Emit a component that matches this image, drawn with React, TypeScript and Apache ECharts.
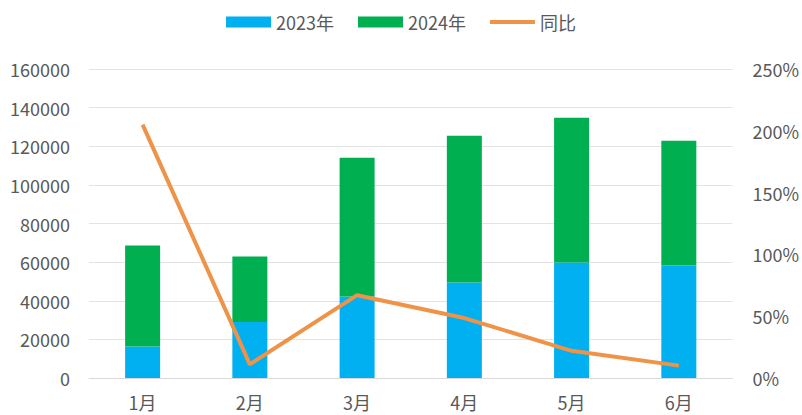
import React, { useEffect, useRef } from "react";
import * as echarts from "echarts";

const categories = ["1月", "2月", "3月", "4月", "5月", "6月"];
const values2023 = [16300, 29000, 42200, 49500, 59800, 58300];
const values2024 = [52300, 33900, 71900, 75900, 74900, 64600];
const yoyPercent = [205, 11, 67, 48.5, 22, 10];
const leftTicks = { min: 0, max: 160000, interval: 20000 };
const rightTicks = { min: 0, max: 250, interval: 50 };

const FONT = "'Noto Sans CJK SC', 'Noto Sans', sans-serif";
const TEXT = "#595959";

export default function App() {
  const ref = useRef<HTMLDivElement>(null);
  useEffect(() => {
    if (!ref.current) return;
    const chart = echarts.init(ref.current, undefined, { renderer: "svg" });
    chart.setOption({
      animation: false,
      backgroundColor: "#ffffff",
      textStyle: { fontFamily: FONT },
      legend: {
        top: 8,
        left: "center",
        itemGap: 24,
        itemWidth: 45,
        itemHeight: 11,
        textStyle: { fontFamily: FONT, fontSize: 18, color: TEXT },
        data: [
          { name: "2023年", icon: "rect" },
          { name: "2024年", icon: "rect" },
          { name: "同比", icon: "path://M0,0 L45,0 L45,4 L0,4 Z" },
        ],
      },
      grid: { left: 89, right: 67, top: 69, bottom: 37 },
      xAxis: {
        type: "category",
        data: categories,
        axisTick: { show: false },
        axisLine: { show: true, lineStyle: { color: "#D9D9D9", width: 1 } },
        axisLabel: { color: TEXT, fontSize: 18, margin: 15, fontFamily: FONT },
      },
      yAxis: [
        {
          type: "value",
          min: leftTicks.min,
          max: leftTicks.max,
          interval: leftTicks.interval,
          axisLine: { show: false },
          axisTick: { show: false },
          splitLine: { lineStyle: { color: "#E3E3E3", width: 1 } },
          axisLabel: {
            color: TEXT,
            fontSize: 18,
            margin: 19,
            fontFamily: FONT,
            formatter: (v: number) => String(v),
          },
        },
        {
          type: "value",
          min: rightTicks.min,
          max: rightTicks.max,
          interval: rightTicks.interval,
          axisLine: { show: false },
          axisTick: { show: false },
          splitLine: { show: false },
          axisLabel: {
            color: TEXT,
            fontSize: 18,
            margin: 20,
            fontFamily: FONT,
            formatter: (v: number) => v + "%",
          },
        },
      ],
      series: [
        {
          name: "2023年",
          type: "bar",
          stack: "total",
          data: values2023,
          barWidth: 35,
          itemStyle: { color: "#00B0F0" },
        },
        {
          name: "2024年",
          type: "bar",
          stack: "total",
          data: values2024,
          barWidth: 35,
          itemStyle: { color: "#00B050" },
        },
        {
          name: "同比",
          type: "line",
          yAxisIndex: 1,
          data: yoyPercent,
          symbol: "none",
          lineStyle: { color: "#EE9347", width: 4 },
          itemStyle: { color: "#EE9347" },
        },
      ],
    });
    return () => chart.dispose();
  }, []);
  return (
    <div
      ref={ref}
      style={{ position: "fixed", left: 0, top: 0, width: 802, height: 415 }}
    />
  );
}
